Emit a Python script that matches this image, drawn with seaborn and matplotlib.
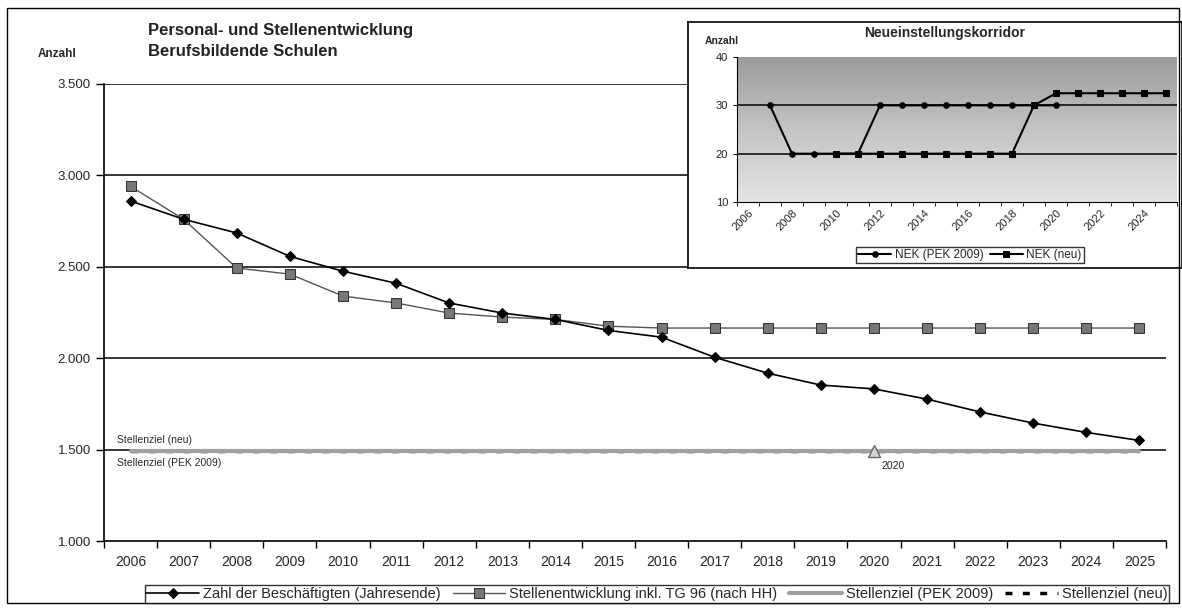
import numpy as np
import pandas as pd
import matplotlib
matplotlib.use("Agg")
import matplotlib.pyplot as plt
import seaborn as sns
from matplotlib.colors import LinearSegmentedColormap
from matplotlib.patches import Rectangle
from matplotlib.ticker import FuncFormatter

# ---- data ----
years = list(range(2006, 2026))
beschaeftigte = [2860, 2760, 2685, 2557, 2476, 2410, 2302, 2247, 2212, 2152,
                 2115, 2005, 1918, 1853, 1832, 1776, 1706, 1645, 1594, 1550]
stellen = [2940, 2760, 2493, 2460, 2340, 2302, 2247, 2225, 2212, 2175,
           2165, 2165, 2165, 2165, 2165, 2165, 2165, 2165, 2165, 2165]
ziel_pek = [1490] * len(years)
ziel_neu = [1490] * len(years)
ziel_marker_year = 2020

nek_pek_years = list(range(2007, 2020 + 1))
nek_pek = [30, 20, 20, 20, 20, 30, 30, 30, 30, 30, 30, 30, 30, 30]
nek_neu_years = list(range(2010, 2026))
nek_neu = [20, 20, 20, 20, 20, 20, 20, 20, 20, 30, 32.5, 32.5, 32.5, 32.5, 32.5, 32.5]

main_labels = ["Zahl der Beschäftigten (Jahresende)",
               "Stellenentwicklung inkl. TG 96 (nach HH)",
               "Stellenziel (PEK 2009)", "Stellenziel (neu)"]
inset_labels = ["NEK (PEK 2009)", "NEK (neu)"]

sns.set_style("white")
plt.rcParams["font.family"] = ["Liberation Sans", "DejaVu Sans"]

W, H = 1182, 608
fig = plt.figure(figsize=(W / 100, H / 100), dpi=100)


def box(x0, y0, x1, y1):
    # pixel box -> figure fraction rect
    return [x0 / W, 1 - y1 / H, (x1 - x0) / W, (y1 - y0) / H]


# outer frame
fig.patches.append(Rectangle((7 / W, 1 - 603 / H), 1172 / W, 595 / H,
                             transform=fig.transFigure, fill=False,
                             edgecolor="black", lw=1))

# ---- main chart ----
ax = fig.add_axes(box(104, 84, 1166, 541))
df_main = pd.DataFrame({"Jahr": years, "b": beschaeftigte, "s": stellen,
                        "zp": ziel_pek, "zn": ziel_neu})

for v in [1500, 2000, 2500, 3000, 3500]:
    ax.axhline(v, color="black", lw=1.1, zorder=1)

sns.lineplot(data=df_main, x="Jahr", y="zn", ax=ax, color="black", lw=2.5,
             linestyle=(0, (2, 3)), label=main_labels[3], zorder=2)
sns.lineplot(data=df_main, x="Jahr", y="zp", ax=ax, color="#a0a0a0", lw=3,
             label=main_labels[2], zorder=3)
sns.lineplot(data=df_main, x="Jahr", y="s", ax=ax, color="#555555", lw=1,
             marker="s", markersize=7, markerfacecolor="#777777",
             markeredgecolor="#333333", label=main_labels[1], zorder=4)
sns.lineplot(data=df_main, x="Jahr", y="b", ax=ax, color="black", lw=1.2,
             marker="D", markersize=5, markerfacecolor="black",
             markeredgecolor="black", label=main_labels[0], zorder=5)

ax.plot([ziel_marker_year], [ziel_pek[years.index(ziel_marker_year)]],
        marker="^", markersize=9, markerfacecolor="#d4d4d4",
        markeredgecolor="#666666", zorder=6)
ax.text(ziel_marker_year + 0.15, 1440, "2020", fontsize=7.5, va="top",
        ha="left")
ax.text(2005.75, 1525, "Stellenziel (neu)", fontsize=7.5, va="bottom")
ax.text(2005.75, 1455, "Stellenziel (PEK 2009)", fontsize=7.5, va="top")

ax.set_xlim(2005.5, 2025.5)
ax.set_ylim(1000, 3500)
ax.set_xticks(years)
ax.set_xticks(np.arange(2005.5, 2026, 1), minor=True)
ax.set_yticks([1000, 1500, 2000, 2500, 3000, 3500])
ax.yaxis.set_major_formatter(FuncFormatter(lambda v, p: f"{v:,.0f}".replace(",", ".")))
ax.tick_params(axis="x", which="major", length=0, labelsize=10, pad=10)
ax.tick_params(axis="x", which="minor", length=5, direction="out", width=1,
               color="black", bottom=True)
ax.tick_params(axis="y", length=6, direction="out", left=True, width=1,
               labelsize=9.5, color="black")
ax.set_xlabel("")
ax.set_ylabel("")
for s in ["top", "right"]:
    ax.spines[s].set_visible(False)
for s in ["left", "bottom"]:
    ax.spines[s].set_color("black")
    ax.spines[s].set_linewidth(1.2)

handles, labels = ax.get_legend_handles_labels()
order = [labels.index(l) for l in main_labels]
ax.get_legend().remove()
leg = fig.legend([handles[i] for i in order], [labels[i] for i in order],
                 loc="center", bbox_to_anchor=(657 / W, 1 - 594 / H), ncol=4,
                 fontsize=10.5, frameon=True, fancybox=False, edgecolor="black",
                 handlelength=3.6, columnspacing=0.8, handletextpad=0.3,
                 borderpad=0.12)
leg.get_frame().set_linewidth(1)

fig.text(148 / W, 1 - 30 / H, "Personal- und Stellenentwicklung",
         fontsize=12, fontweight="bold", color="#222222", va="center")
fig.text(148 / W, 1 - 51 / H, "Berufsbildende Schulen",
         fontsize=12, fontweight="bold", color="#222222", va="center")
fig.text(38 / W, 1 - 54 / H, "Anzahl", fontsize=8.5, fontweight="bold",
         va="center")

# ---- inset ----
frame_ax = fig.add_axes(box(688, 22, 1182, 268))
frame_ax.set_xticks([])
frame_ax.set_yticks([])
frame_ax.set_facecolor("white")
for s in frame_ax.spines.values():
    s.set_color("black")
    s.set_linewidth(1.2)

iax = fig.add_axes(box(737, 57, 1177, 202))
cmap = LinearSegmentedColormap.from_list("bg", ["#e4e4e4", "#c4c4c4", "#9c9c9c"])
grad = np.linspace(0, 1, 200).reshape(-1, 1)
iax.imshow(grad, extent=[2005.5, 2025.5, 10, 40], origin="lower",
           aspect="auto", cmap=cmap, zorder=0)
for v in [20, 30]:
    iax.axhline(v, color="black", lw=1.1, zorder=1)

df_pek = pd.DataFrame({"Jahr": nek_pek_years, "NEK": nek_pek})
df_neu = pd.DataFrame({"Jahr": nek_neu_years, "NEK": nek_neu})
sns.lineplot(data=df_pek, x="Jahr", y="NEK", ax=iax, color="black", lw=1.5,
             marker="o", markersize=4, markeredgecolor="black",
             label=inset_labels[0], zorder=3)
sns.lineplot(data=df_neu, x="Jahr", y="NEK", ax=iax, color="black", lw=1.5,
             marker="s", markersize=5, markeredgecolor="black",
             label=inset_labels[1], zorder=4)

iax.set_xlim(2005.5, 2025.5)
iax.set_ylim(10, 40)
iax.set_yticks([10, 20, 30, 40])
iax.set_xticks(list(range(2006, 2026, 2)))
iax.set_xticklabels([str(y) for y in range(2006, 2026, 2)], rotation=45,
                    ha="right", rotation_mode="anchor", fontsize=8)
iax.set_xticks(np.arange(2005.5, 2026, 1), minor=True)
iax.tick_params(axis="x", which="major", length=0, pad=4)
iax.tick_params(axis="x", which="minor", length=3, direction="out",
                bottom=True, color="black")
iax.tick_params(axis="y", length=3, direction="out", left=True, labelsize=8,
                color="black")
iax.set_xlabel("")
iax.set_ylabel("")
for s in ["top", "right"]:
    iax.spines[s].set_visible(False)
for s in ["left", "bottom"]:
    iax.spines[s].set_color("black")
iax.get_legend().remove()
ih, il = iax.get_legend_handles_labels()
ileg = fig.legend(ih, il, loc="center", bbox_to_anchor=(970 / W, 1 - 255 / H),
                  ncol=2, fontsize=8.5, frameon=True, fancybox=False,
                  edgecolor="black", handlelength=2.8, columnspacing=0.5,
                  handletextpad=0.3, borderpad=0.2)

fig.text(945 / W, 1 - 33 / H, "Neueinstellungskorridor", fontsize=10,
         fontweight="bold", ha="center", va="center")
fig.text(705 / W, 1 - 41 / H, "Anzahl", fontsize=7.5, fontweight="bold",
         va="center")

fig.savefig("out.png", dpi=100)
